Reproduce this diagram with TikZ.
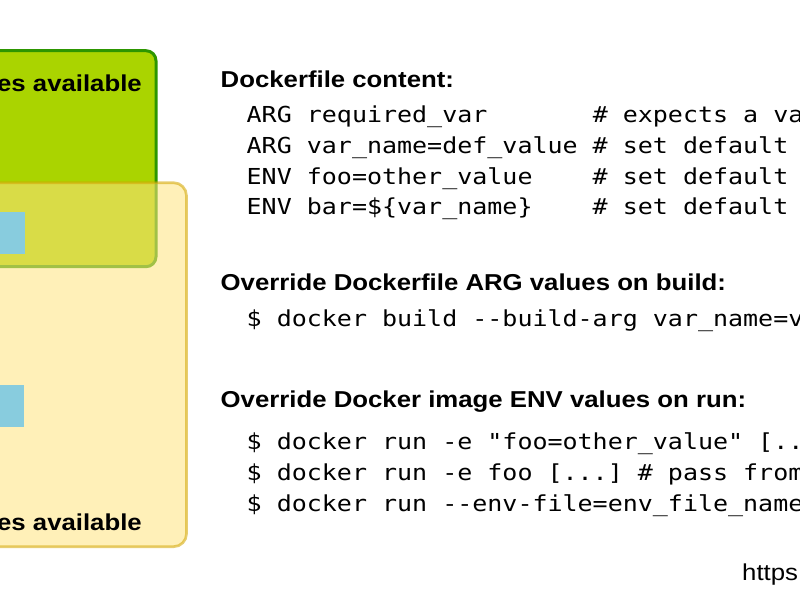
\documentclass[tikz,border=0pt]{standalone}
\usepackage{fontspec}
\setsansfont{Liberation Sans}[FakeStretch=1.12]
\setmonofont{DejaVu Sans Mono}[FakeStretch=1.136]
\usepackage{tikz}
\definecolor{argfill}{HTML}{AAD400}
\definecolor{argline}{HTML}{2D9600}
\definecolor{envfill}{HTML}{FFE480}
\definecolor{envline}{HTML}{D2A500}
\definecolor{varfill}{HTML}{88CCDE}
\tikzset{
  argbox/.style={fill=argfill, draw=argline, line width=3pt, rounded corners=10pt},
  envbox/.style={fill=envfill, draw=envline, line width=2.7pt, rounded corners=13pt, opacity=0.555},
  varcell/.style={fill=varfill},
  boxlabel/.style={anchor=base east, inner sep=0pt, font=\sffamily\bfseries\fontsize{23}{28}\selectfont},
  headline/.style={anchor=base west, inner sep=0pt, font=\sffamily\bfseries\fontsize{23}{28}\selectfont},
  codeline/.style={anchor=base west, inner sep=0pt, font=\ttfamily\fontsize{22}{30}\selectfont},
  linktext/.style={anchor=base west, inner sep=0pt, font=\sffamily\fontsize{23}{28}\selectfont}
}

\begin{document}
\frenchspacing
\begin{tikzpicture}[x=1pt,y=-1pt]
\newcommand{\codestep}{30.8}
\useasboundingbox (0,0) rectangle (800,600);
\clip (0,0) rectangle (800,600);
% scopes of the variables
\filldraw[argbox] (-20,50.7) rectangle (156,266.7);
\filldraw[envbox] (-20,182.7) rectangle (186.5,546.7);
\fill[varcell] (-5,211.7) rectangle (25,254.3);
\fill[varcell] (-5,385) rectangle (24,427.3);
\node[boxlabel] (arglabel) at (142,91.7) {es available};
\node[boxlabel] (envlabel) at (142,530) {es available};
% commands
\node[headline] (dfhead) at (220.5,87.3) {Dockerfile content:};
\foreach \t [count=\i] in {{ARG required\_var~~~~~~~\# expects a va},
                           {ARG var\_name=def\_value \# set default},
                           {ENV foo=other\_value~~~~\# set default},
                           {ENV bar=\$\{var\_name\}~~~~\# set default}}
  {
    \node[codeline] (dfline\i) at (246.5, 122.5 + \codestep*\i - \codestep) {\t};
  }
\node[headline] (buildhead) at (220.5,290) {Override Dockerfile ARG values on build:};
\node[codeline] (buildline) at (246.5,326) {\$ docker build --build-arg var\_name=v};
\node[headline] (runhead) at (220.5,407.3) {Override Docker image ENV values on run:};
\node[codeline] (runline1) at (246.5,449.5) {\$ docker run -e "foo=other\_value" [..};
\node[codeline] (runline2) at (246.5,480.3) {\$ docker run -e foo [...] \# pass from};
\node[codeline] (runline3) at (246.5,511.1) {\$ docker run --env-file=env\_file\_name};
\node[linktext] (link) at (742,580) {https};
\end{tikzpicture}
\end{document}
